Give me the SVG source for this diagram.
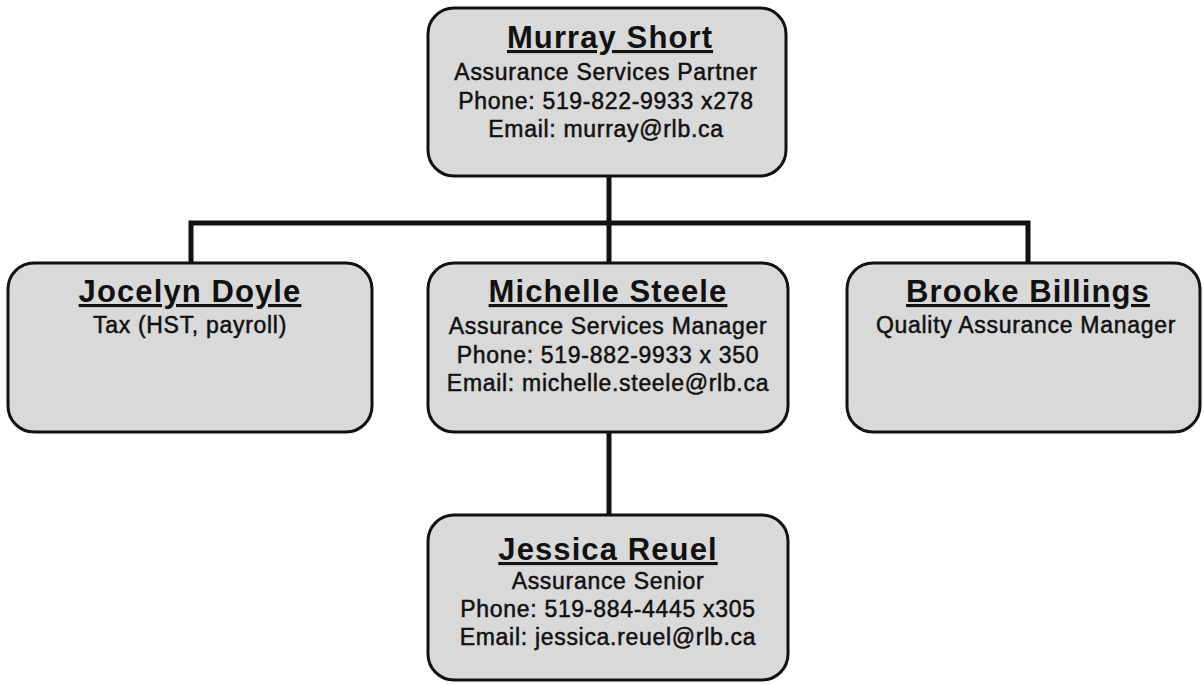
<svg xmlns="http://www.w3.org/2000/svg" width="1204" height="684" viewBox="0 0 1204 684">
<style>
.box{fill:#d9d9d9;stroke:#111;stroke-width:3}
.name{font-family:"Liberation Sans",Arial,sans-serif;font-weight:bold;font-size:31px;letter-spacing:1.1px;text-anchor:middle;fill:#111;text-decoration:underline}
.t{font-family:"Liberation Sans",Arial,sans-serif;font-size:23px;letter-spacing:0.7px;text-anchor:middle;fill:#111;stroke:#111;stroke-width:0.5}
.c{stroke:#111;stroke-width:5;fill:none}
</style>
<rect width="1204" height="684" fill="#fff"/>
<g id="connectors">
<line class="c" x1="609" y1="176" x2="609" y2="263"/>
<polyline class="c" points="191,263 191,223 1028,223 1028,263"/>
<line class="c" x1="609" y1="432" x2="609" y2="515"/>
</g>
<g id="murray">
<rect class="box" x="428" y="8" width="358" height="168" rx="26"/>
<text class="name" x="610" y="48">Murray Short</text>
<text class="t" x="606" y="80">Assurance Services Partner</text>
<text class="t" x="606" y="109">Phone: 519-822-9933 x278</text>
<text class="t" x="606" y="137">Email: murray@rlb.ca</text>
</g>
<g id="jocelyn">
<rect class="box" x="8" y="263" width="364" height="169" rx="26"/>
<text class="name" x="190" y="302">Jocelyn Doyle</text>
<text class="t" x="190" y="333">Tax (HST, payroll)</text>
</g>
<g id="michelle">
<rect class="box" x="428" y="263" width="360" height="169" rx="26"/>
<text class="name" x="608" y="302">Michelle Steele</text>
<text class="t" x="608" y="334">Assurance Services Manager</text>
<text class="t" x="608" y="363">Phone: 519-882-9933 x 350</text>
<text class="t" x="608" y="391">Email: michelle.steele@rlb.ca</text>
</g>
<g id="brooke">
<rect class="box" x="847" y="263" width="353" height="169" rx="26"/>
<text class="name" x="1028" y="302">Brooke Billings</text>
<text class="t" x="1026" y="333">Quality Assurance Manager</text>
</g>
<g id="jessica">
<rect class="box" x="428" y="515" width="360" height="165" rx="26"/>
<text class="name" x="608" y="560">Jessica Reuel</text>
<text class="t" x="608" y="589">Assurance Senior</text>
<text class="t" x="608" y="617">Phone: 519-884-4445 x305</text>
<text class="t" x="608" y="645">Email: jessica.reuel@rlb.ca</text>
</g>
</svg>
